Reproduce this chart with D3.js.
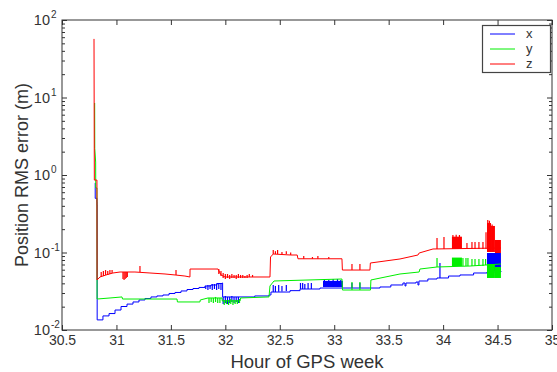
<!DOCTYPE html>
<html>
<head>
<meta charset="utf-8">
<script src="https://cdn.jsdelivr.net/npm/d3@7"></script>
<style>
  body { margin: 0; background: #fff; }
  svg { display: block; }
  text { font-family: "Liberation Sans", Arial, Helvetica, sans-serif; fill: #333; }
</style>
</head>
<body>
<svg id="chart" width="557" height="372"></svg>
<script>
// ---- axis ticks ----
const xTickValues = [30.5, 31, 31.5, 32, 32.5, 33, 33.5, 34, 34.5, 35];
const xTickLabels = ["30.5", "31", "31.5", "32", "32.5", "33", "33.5", "34", "34.5", "35"];
const yDecadeExponents = [-2, -1, 0, 1, 2];
const yDecadeLabels = ["-2", "-1", "0", "1", "2"];
const seriesNames = ["x", "y", "z"];

// ---- position RMS error per axis: [hour of GPS week, error in m] ----
const xLine = [
  [30.805, 0.79], [30.805, 0.50], [30.821, 0.45], [30.822, 0.41], [30.823, 0.0135],
  [30.876, 0.0152], [30.932, 0.0163], [30.987, 0.0181], [31.042, 0.0201], [31.097, 0.0216],
  [31.152, 0.0230], [31.207, 0.0244], [31.262, 0.0255], [31.317, 0.0267], [31.372, 0.0275],
  [31.427, 0.0283], [31.483, 0.0296], [31.538, 0.0305], [31.593, 0.0319], [31.648, 0.0333],
  [31.703, 0.0343], [31.758, 0.0354], [31.813, 0.0370], [31.868, 0.0381], [31.923, 0.0398],
  [31.969, 0.0404], [31.975, 0.0267], [32.135, 0.0267], [32.270, 0.0275], [32.401, 0.0283],
  [32.419, 0.0309], [32.594, 0.0322], [32.686, 0.0338], [32.869, 0.0348], [33.328, 0.0348],
  [33.420, 0.0359], [33.520, 0.0381], [33.631, 0.0404], [33.650, 0.0370], [33.659, 0.0404],
  [33.751, 0.0416], [33.769, 0.0381], [33.778, 0.0429], [33.860, 0.0455], [33.944, 0.0469],
  [34.050, 0.0497], [34.155, 0.0513], [34.280, 0.0544], [34.403, 0.0560], [34.531, 0.0577]
];
const yLine = [
  [30.800, 8.5], [30.801, 2.2], [30.809, 1.47], [30.810, 0.68], [30.821, 0.68], [30.822, 0.0251],
  [30.941, 0.0259], [31.051, 0.0267], [31.056, 0.0251], [31.556, 0.0251], [31.560, 0.0230],
  [31.767, 0.0230], [31.770, 0.0244], [31.841, 0.0259], [31.969, 0.0259], [31.972, 0.0237],
  [32.135, 0.0237], [32.140, 0.0259], [32.401, 0.0267], [32.410, 0.0370], [32.447, 0.0429],
  [33.071, 0.0455], [33.076, 0.0328], [33.333, 0.0328], [33.337, 0.0442], [33.604, 0.0528],
  [33.780, 0.0560], [33.787, 0.0612], [33.944, 0.0650], [34.247, 0.0669], [34.531, 0.0710]
];
const zLine = [
  [30.794, 57], [30.797, 0.86], [30.821, 0.86], [30.822, 0.0442],
  [30.849, 0.0483], [30.876, 0.0497], [30.904, 0.0513], [30.968, 0.0544], [31.033, 0.0560],
  [31.170, 0.0560], [31.308, 0.0544], [31.446, 0.0528], [31.538, 0.0513], [31.629, 0.0497],
  [31.675, 0.0483], [31.676, 0.0612], [31.933, 0.0612], [31.960, 0.0513], [31.997, 0.0483],
  [32.410, 0.0483], [32.415, 0.0875], [32.440, 0.0956], [32.600, 0.0928], [32.660, 0.0928],
  [32.667, 0.0830], [33.071, 0.0830], [33.075, 0.0594], [33.328, 0.0594], [33.332, 0.0732],
  [33.604, 0.0825], [33.769, 0.0928], [33.780, 0.0985], [33.907, 0.1110], [34.531, 0.1143]
];

// short excursions: [hour, low, high]
const xSpikes = [
  [31.82, 0.0338, 0.0370], [31.84, 0.0328, 0.0381], [31.86, 0.0338, 0.0381], [31.88, 0.0328, 0.0392],
  [31.90, 0.0338, 0.0392], [31.92, 0.0328, 0.0398], [31.94, 0.0338, 0.0404], [31.96, 0.0328, 0.0404],
  [31.98, 0.0216, 0.0267], [32.00, 0.0223, 0.0275], [32.02, 0.0216, 0.0267], [32.04, 0.0223, 0.0267],
  [32.06, 0.0230, 0.0275], [32.08, 0.0223, 0.0267], [32.10, 0.0230, 0.0267], [32.12, 0.0223, 0.0267],
  [32.44, 0.0309, 0.0381], [32.46, 0.0309, 0.0370], [32.49, 0.0312, 0.0381], [32.52, 0.0315, 0.0370],
  [32.56, 0.0319, 0.0381],
  [32.69, 0.0338, 0.0404], [32.71, 0.0338, 0.0404], [32.73, 0.0338, 0.0392], [32.76, 0.0338, 0.0404],
  [32.79, 0.0338, 0.0404],
  [32.91, 0.0359, 0.0455], [32.95, 0.0359, 0.0442], [32.99, 0.0359, 0.0455], [33.03, 0.0359, 0.0455],
  [33.06, 0.0359, 0.0442],
  [33.163, 0.0348, 0.0404], [33.236, 0.0348, 0.0404],
  [33.971, 0.0469, 0.0732]
];
const ySpikes = [
  [31.85, 0.0223, 0.0259], [31.87, 0.0230, 0.0259], [31.89, 0.0223, 0.0259], [31.91, 0.0230, 0.0267],
  [31.93, 0.0223, 0.0259], [31.95, 0.0223, 0.0259],
  [31.99, 0.0210, 0.0244], [32.01, 0.0216, 0.0244], [32.03, 0.0210, 0.0244], [32.05, 0.0216, 0.0251],
  [32.07, 0.0210, 0.0244], [32.09, 0.0216, 0.0244], [32.11, 0.0216, 0.0244], [32.13, 0.0223, 0.0251],
  [33.163, 0.0328, 0.0416], [33.236, 0.0328, 0.0416],
  [33.944, 0.0650, 0.0849], [34.182, 0.0669, 0.0849], [34.210, 0.0669, 0.0849], [34.228, 0.0669, 0.0849],
  [34.265, 0.0669, 0.0825], [34.293, 0.0669, 0.0825], [34.329, 0.0669, 0.0825], [34.366, 0.0669, 0.0825],
  [34.390, 0.0690, 0.0825]
];
const zSpikes = [
  [30.86, 0.0483, 0.0560], [30.88, 0.0497, 0.0577], [30.90, 0.0513, 0.0594], [30.92, 0.0513, 0.0577],
  [30.94, 0.0528, 0.0594], [30.96, 0.0544, 0.0594],
  [31.06, 0.0455, 0.0560], [31.07, 0.0442, 0.0560], [31.08, 0.0455, 0.0560], [31.09, 0.0469, 0.0560],
  [31.10, 0.0483, 0.0560],
  [31.216, 0.0560, 0.0669], [31.547, 0.0513, 0.0594],
  [31.94, 0.0528, 0.0612], [31.96, 0.0497, 0.0577], [31.98, 0.0469, 0.0544], [32.00, 0.0455, 0.0528],
  [32.02, 0.0469, 0.0528], [32.04, 0.0455, 0.0513], [32.06, 0.0469, 0.0528], [32.08, 0.0469, 0.0513],
  [32.10, 0.0455, 0.0513], [32.12, 0.0469, 0.0528], [32.14, 0.0469, 0.0513], [32.16, 0.0469, 0.0513],
  [32.18, 0.0469, 0.0497], [32.20, 0.0469, 0.0513], [32.22, 0.0483, 0.0528], [32.25, 0.0483, 0.0513],
  [32.44, 0.0956, 0.1077], [32.46, 0.0956, 0.1040], [32.48, 0.0956, 0.1077], [32.52, 0.0956, 0.1015],
  [32.56, 0.0956, 0.1040], [32.60, 0.0928, 0.1000],
  [32.72, 0.0830, 0.0901], [32.80, 0.0830, 0.0875], [32.85, 0.0830, 0.0901], [32.95, 0.0830, 0.0875],
  [33.163, 0.0594, 0.0710], [33.236, 0.0594, 0.0710],
  [33.944, 0.1110, 0.1539], [34.008, 0.1110, 0.1585],
  [34.090, 0.1110, 0.1682], [34.120, 0.1110, 0.1700], [34.150, 0.1110, 0.1682],
  [34.219, 0.1110, 0.1326], [34.265, 0.1110, 0.1366], [34.293, 0.1110, 0.1366], [34.329, 0.1110, 0.1366],
  [34.366, 0.1110, 0.1366], [34.394, 0.1110, 0.1825],
  [34.410, 0.1015, 0.2626], [34.425, 0.1015, 0.2570], [34.450, 0.1015, 0.2300]
];

// dense stretches where the error swings between two levels: [from, to, low, high]
const xBands = [
  [32.897, 33.080, 0.0359, 0.0430],
  [34.403, 34.531, 0.0577, 0.0985]
];
const yBands = [
  [34.081, 34.173, 0.0669, 0.0860],
  [34.403, 34.476, 0.0469, 0.0710],
  [34.476, 34.531, 0.0469, 0.0650]
];
const zBands = [
  [34.081, 34.173, 0.1110, 0.1600],
  [34.403, 34.440, 0.1015, 0.2400],
  [34.440, 34.476, 0.1015, 0.2200],
  [34.476, 34.531, 0.0985, 0.1450]
];

const series = [
  { name: seriesNames[0], line: xLine, spikes: xSpikes, bands: xBands, color: "#0000ff", curve: d3.curveStepAfter },
  { name: seriesNames[1], line: yLine, spikes: ySpikes, bands: yBands, color: "#00ee00", curve: d3.curveLinear },
  { name: seriesNames[2], line: zLine, spikes: zSpikes, bands: zBands, color: "#ff0000", curve: d3.curveLinear }
];

// ---- layout ----
const svg = d3.select("#chart");
const plotLeft = 62, plotRight = 552, plotTop = 20, plotBottom = 330;

const x = d3.scaleLinear().domain([30.5, 35]).range([plotLeft, plotRight]);
const y = d3.scaleLog().domain([0.01, 100]).range([plotBottom, plotTop]);

svg.append("defs").append("clipPath").attr("id", "plotArea")
  .append("rect").attr("x", plotLeft).attr("y", plotTop)
  .attr("width", plotRight - plotLeft).attr("height", plotBottom - plotTop);

const plot = svg.append("g").attr("clip-path", "url(#plotArea)");

series.forEach(s => {
  const g = plot.append("g");
  g.selectAll("rect").data(s.bands).join("rect")
    .attr("x", d => x(d[0])).attr("width", d => x(d[1]) - x(d[0]))
    .attr("y", d => y(d[3])).attr("height", d => y(d[2]) - y(d[3]))
    .attr("fill", s.color);
  g.append("path").datum(s.line)
    .attr("d", d3.line().x(d => x(d[0])).y(d => y(d[1])).curve(s.curve))
    .attr("fill", "none").attr("stroke", s.color).attr("stroke-width", 1);
  g.selectAll("line").data(s.spikes).join("line")
    .attr("x1", d => x(d[0])).attr("x2", d => x(d[0]))
    .attr("y1", d => y(d[1])).attr("y2", d => y(d[2]))
    .attr("stroke", s.color).attr("stroke-width", 1.2);
});

// ---- axes (ticks point inward on all four sides) ----
const axisColor = "#333";
const yAll = y.ticks();
const yMajor = yDecadeExponents.map(e => Math.pow(10, e));
const yMinor = yAll.filter(v => !yMajor.some(m => Math.abs(m - v) / m < 1e-9));

function styleAxis(g) {
  g.select(".domain").remove();
  g.selectAll(".tick line").attr("stroke", axisColor);
}

svg.append("g").attr("transform", `translate(0,${plotBottom})`)
  .call(d3.axisBottom(x).tickValues(xTickValues).tickSize(-5).tickPadding(5)
    .tickFormat((d, i) => xTickLabels[i]))
  .call(styleAxis)
  .call(g => g.selectAll("text").attr("font-size", 14).attr("fill", "#333")
    .attr("font-family", '"Liberation Sans", Arial, sans-serif'));

svg.append("g").attr("transform", `translate(0,${plotTop})`)
  .call(d3.axisTop(x).tickValues(xTickValues).tickSize(-5).tickFormat(""))
  .call(styleAxis);

[[d3.axisLeft, plotLeft], [d3.axisRight, plotRight]].forEach(([axisFn, pos]) => {
  svg.append("g").attr("transform", `translate(${pos},0)`)
    .call(axisFn(y).tickValues(yMajor).tickSize(-5).tickFormat(""))
    .call(styleAxis);
  svg.append("g").attr("transform", `translate(${pos},0)`)
    .call(axisFn(y).tickValues(yMinor).tickSize(-3).tickFormat(""))
    .call(styleAxis);
});

// decade labels written as 10 with a raised exponent
const yLab = svg.append("g");
yDecadeExponents.forEach((e, i) => {
  const py = y(Math.pow(10, e));
  yLab.append("text").attr("x", 50).attr("y", py + 5)
    .attr("text-anchor", "end").attr("font-size", 14.5).text("10");
  yLab.append("text").attr("x", 51).attr("y", py - 2)
    .attr("text-anchor", "start").attr("font-size", 10).text(yDecadeLabels[i]);
});

// plot frame
svg.append("rect").attr("x", plotLeft).attr("y", plotTop)
  .attr("width", plotRight - plotLeft).attr("height", plotBottom - plotTop)
  .attr("fill", "none").attr("stroke", axisColor).attr("stroke-width", 1);

// axis titles
svg.append("text").attr("x", (plotLeft + plotRight) / 2).attr("y", 368)
  .attr("text-anchor", "middle").attr("font-size", 18.5).text("Hour of GPS week");
svg.append("text")
  .attr("transform", `translate(28,${(plotTop + plotBottom) / 2}) rotate(-90)`)
  .attr("text-anchor", "middle").attr("font-size", 18).text("Position RMS error (m)");

// ---- legend ----
const lg = svg.append("g");
lg.append("rect").attr("x", 482.5).attr("y", 25.5).attr("width", 68).attr("height", 47)
  .attr("fill", "#fff").attr("stroke", "#444").attr("stroke-width", 1.2);
series.forEach((s, i) => {
  const ly = 34 + i * 15;
  lg.append("line").attr("x1", 490).attr("x2", 515).attr("y1", ly).attr("y2", ly)
    .attr("stroke", s.color).attr("stroke-width", 1);
  lg.append("text").attr("x", 526).attr("y", ly + 4).attr("font-size", 13).text(s.name);
});
</script>
</body>
</html>
